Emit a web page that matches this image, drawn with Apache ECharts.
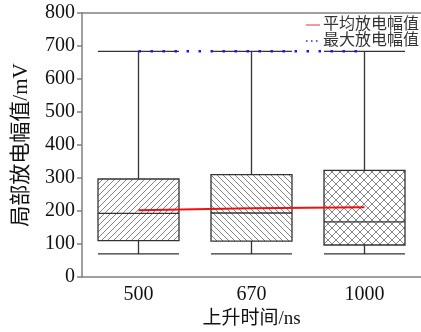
<!DOCTYPE html>
<html><head><meta charset="utf-8">
<script src="https://cdn.jsdelivr.net/npm/echarts@6/dist/echarts.min.js"></script>
<style>html,body{margin:0;padding:0;background:#fff}#c{width:421px;height:332px}</style>
</head><body><div id="c"></div>
<script>
const categories = ['500', '670', '1000'];
// [min, Q1, median, Q3, max]
const boxValues = [
  [70, 110, 193, 297, 684],
  [70, 109, 194, 310, 684],
  [70, 97, 167, 323, 684]
];
const meanValues = [202, 208, 211];
const maxValues = [684, 684, 684];
const yTicks = [0, 100, 200, 300, 400, 500, 600, 700, 800];
const seriesNames = ['平均放电幅值', '最大放电幅值'];

function hatch(kind) {
  const n = kind === 'cross' ? 8 : 6;
  const c = document.createElement('canvas');
  c.width = n; c.height = n;
  const g = c.getContext('2d');
  g.fillStyle = '#fff'; g.fillRect(0, 0, n, n);
  g.strokeStyle = '#777'; g.lineWidth = 0.9;
  function up() { g.beginPath(); g.moveTo(-1, n + 1); g.lineTo(n + 1, -1); g.moveTo(-1, 1); g.lineTo(1, -1); g.moveTo(n - 1, n + 1); g.lineTo(n + 1, n - 1); g.stroke(); }
  function down() { g.beginPath(); g.moveTo(-1, -1); g.lineTo(n + 1, n + 1); g.moveTo(n - 1, -1); g.lineTo(n + 1, 1); g.moveTo(-1, n - 1); g.lineTo(1, n + 1); g.stroke(); }
  if (kind === 'up') up();
  else if (kind === 'down') down();
  else { up(); down(); }
  return { image: c, repeat: 'repeat' };
}
const patterns = [hatch('up'), hatch('down'), hatch('cross')];

const font = '"Liberation Serif", "Times New Roman", "Noto Sans CJK SC", serif';
const chart = echarts.init(document.getElementById('c'), null, { renderer: 'canvas' });
chart.setOption({
  animation: false,
  textStyle: { fontFamily: font },
  grid: { left: 82, right: 0, top: 13, bottom: 55, containLabel: false, outerBoundsMode: 'none' },
  legend: {
    orient: 'vertical', right: -3, top: 12, itemGap: 0,
    itemWidth: 14, itemHeight: 8,
    itemStyle: { opacity: 0 },
    textStyle: { fontSize: 16, color: '#333', fontFamily: font, padding: [0, 0, 0, -2] },
    data: [
      { name: seriesNames[0], lineStyle: { width: 1, color: '#ee3333' } },
      { name: seriesNames[1], lineStyle: { width: 1.5, color: '#2222ee', type: [1.5, 3.5] } }
    ]
  },
  xAxis: [{
    type: 'category', data: categories,
    name: '上升时间/ns', nameLocation: 'middle', nameGap: 32,
    nameTextStyle: { fontSize: 19, color: '#111', fontFamily: font },
    axisLine: { lineStyle: { color: '#808080', width: 1.5 } },
    axisTick: { alignWithLabel: true, length: 5, lineStyle: { color: '#808080', width: 1.5 } },
    axisLabel: { fontSize: 20, color: '#111', margin: 8, fontFamily: font }
  }, {
    type: 'category', data: categories, position: 'top',
    axisLine: { lineStyle: { color: '#808080', width: 1.5 } },
    axisTick: { show: false }, axisLabel: { show: false }
  }],
  yAxis: {
    type: 'value', min: 0, max: 800, interval: 100,
    name: '局部放电幅值/mV', nameLocation: 'middle', nameGap: 50,
    nameTextStyle: { fontSize: 21, color: '#111', fontFamily: font },
    axisLine: { show: true, lineStyle: { color: '#808080', width: 1.5 } },
    axisTick: { show: true, length: 5, lineStyle: { color: '#808080', width: 1.5 } },
    axisLabel: { fontSize: 20, color: '#111', margin: 7, fontFamily: font,
      formatter: v => yTicks.includes(v) ? String(v) : '' },
    splitLine: { show: false }
  },
  series: [{
    type: 'boxplot', name: 'box',
    boxWidth: [81, 81],
    data: boxValues.map((v, i) => ({ value: v, itemStyle: { color: patterns[i], borderColor: '#333', borderWidth: 1.3 } })),
    itemStyle: { borderColor: '#333', borderWidth: 1.3 }
  }, {
    type: 'line', name: seriesNames[0], data: meanValues, symbol: 'none',
    lineStyle: { color: '#ee1111', width: 2 }, itemStyle: { color: '#ee1111' }, z: 5
  }, {
    type: 'line', name: seriesNames[1], data: maxValues, symbol: 'none',
    lineStyle: { color: '#1a1aee', width: 2.5, type: [2.5, 9.5] }, itemStyle: { color: '#1a1aee' }, z: 5
  }]
});
</script></body></html>
